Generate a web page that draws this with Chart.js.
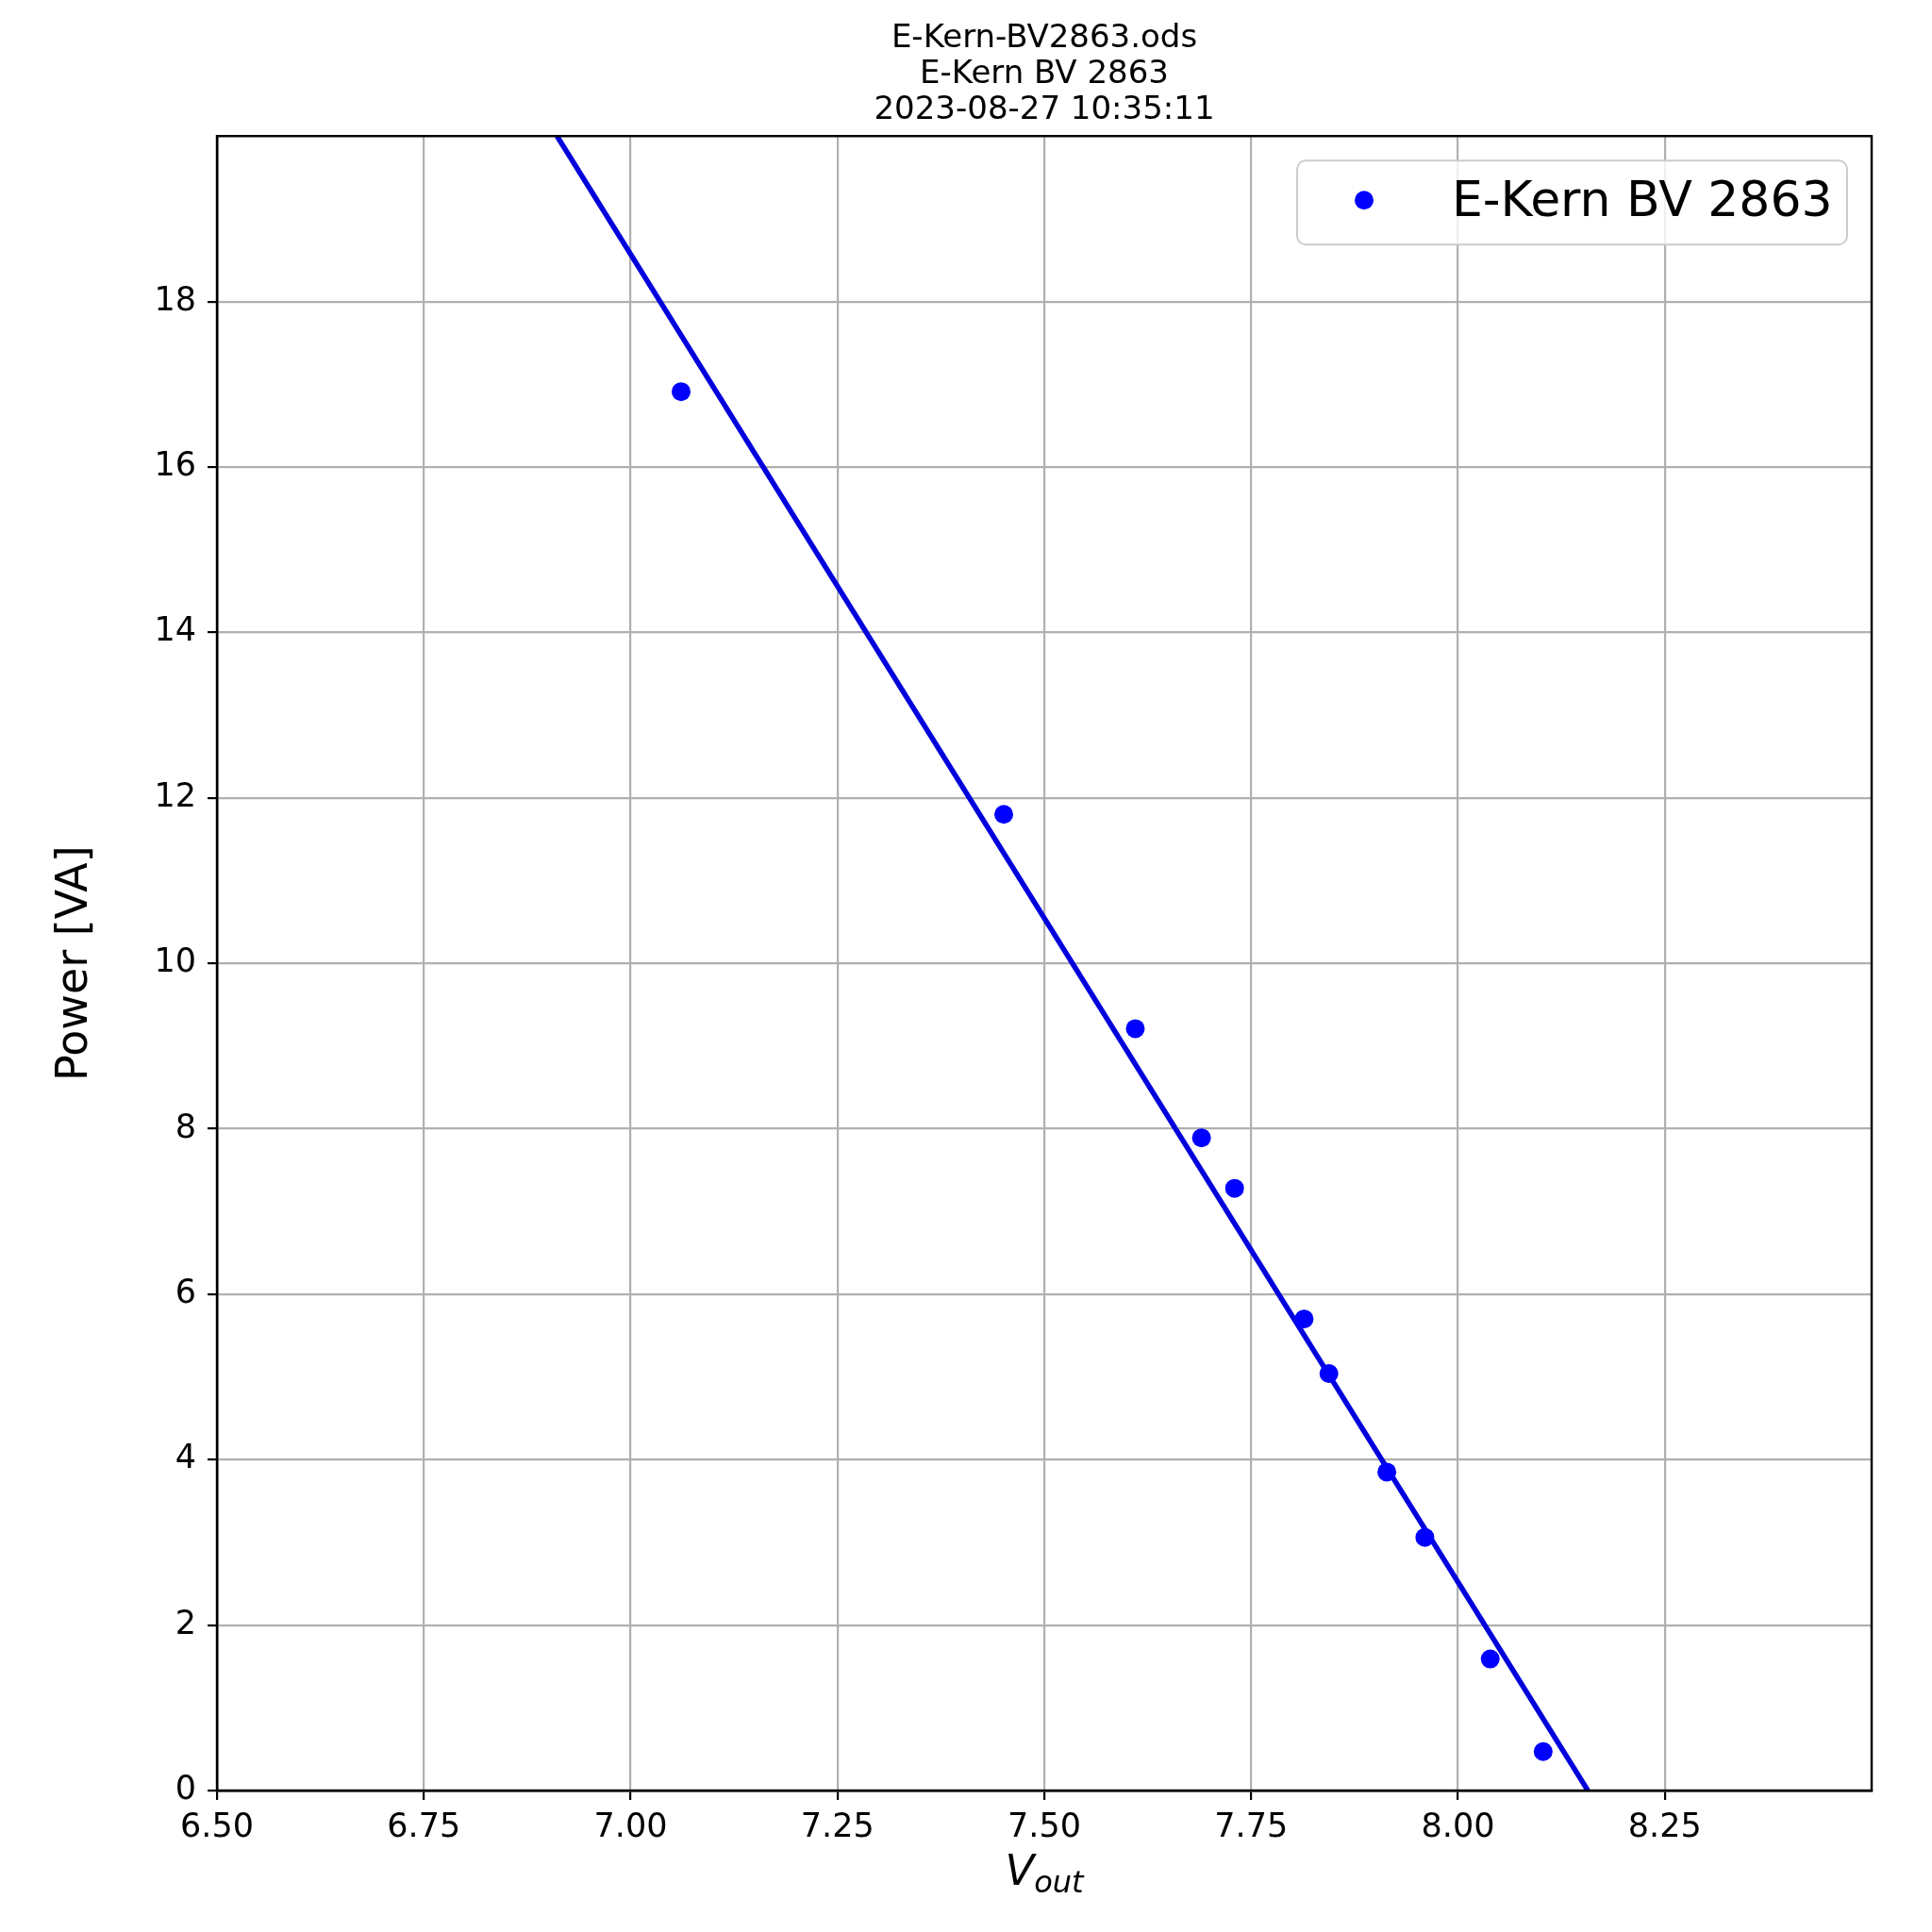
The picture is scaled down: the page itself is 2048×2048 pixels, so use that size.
<!DOCTYPE html>
<html>
<head>
<meta charset="utf-8">
<title>E-Kern BV 2863</title>
<script src="https://cdn.jsdelivr.net/npm/chart.js@4.4.0/dist/chart.umd.min.js"></script>
<style>
  html, body { margin: 0; padding: 0; background: #fff; }
  canvas { display: block; }
</style>
</head>
<body>
<canvas id="powerChart" width="2048" height="2048"></canvas>
<script>
const vOut  = [7.061, 7.451, 7.610, 7.690, 7.730, 7.814, 7.844, 7.914, 7.960, 8.039, 8.103];
const power = [16.91, 11.80, 9.21, 7.89, 7.28, 5.70, 5.04, 3.85, 3.06, 1.59, 0.47];

// fitted line, where it enters and leaves the axes
const fitV = [6.911, 8.157];
const fitP = [20, 0];

const titleLines = ['E-Kern-BV2863.ods', 'E-Kern BV 2863', '2023-08-27 10:35:11'];
const seriesLabel = 'E-Kern BV 2863';
const yTitle = 'Power [VA]';

// axis ranges; the last tick of each axis carries no label
const xRange = [6.5, 8.5];
const xStep = 0.25;
const yRange = [0, 20];
const yStep = 2;

const FONT = "'DejaVu Sans', sans-serif";
const BLUE = '#0000ff';
const LINE_BLUE = '#0000dd';

Chart.defaults.font.family = FONT;
Chart.defaults.color = '#000';

// closed box round the plot, drawn over the data like matplotlib spines
const framePlugin = {
  id: 'frame',
  afterDatasetsDraw(chart) {
    const { ctx, chartArea: a } = chart;
    ctx.save();
    ctx.strokeStyle = '#000';
    ctx.lineWidth = 2.4;
    ctx.strokeRect(a.left, a.top, a.right - a.left, a.bottom - a.top);
    ctx.restore();
  }
};

// x label: italic V with "out" as subscript
const xLabelPlugin = {
  id: 'xLabel',
  afterDraw(chart) {
    const { ctx, chartArea: a } = chart;
    const cx = (a.left + a.right) / 2;
    const base = a.bottom + 100;
    ctx.save();
    ctx.fillStyle = '#000';
    ctx.textBaseline = 'alphabetic';
    ctx.textAlign = 'left';
    ctx.font = 'italic 45px ' + FONT;
    const wV = ctx.measureText('V').width;
    ctx.font = 'italic 32px ' + FONT;
    const wSub = ctx.measureText('out').width;
    let x = cx - (wV + wSub) / 2;
    ctx.font = 'italic 45px ' + FONT;
    ctx.fillText('V', x, base);
    ctx.font = 'italic 32px ' + FONT;
    ctx.fillText('out', x + wV, base + 8);
    ctx.restore();
  }
};

// legend box in the upper right corner of the axes
const legendPlugin = {
  id: 'legendBox',
  afterDraw(chart) {
    const { ctx, chartArea: a } = chart;
    const ds = chart.data.datasets[0];
    const w = 583, h = 89, r = 9;
    const x = a.right - 26 - w;
    const y = a.top + 26;
    ctx.save();
    ctx.beginPath();
    ctx.moveTo(x + r, y);
    ctx.lineTo(x + w - r, y);
    ctx.arcTo(x + w, y, x + w, y + r, r);
    ctx.lineTo(x + w, y + h - r);
    ctx.arcTo(x + w, y + h, x + w - r, y + h, r);
    ctx.lineTo(x + r, y + h);
    ctx.arcTo(x, y + h, x, y + h - r, r);
    ctx.lineTo(x, y + r);
    ctx.arcTo(x, y, x + r, y, r);
    ctx.closePath();
    ctx.fillStyle = 'rgba(255,255,255,0.8)';
    ctx.fill();
    ctx.strokeStyle = '#cccccc';
    ctx.lineWidth = 2;
    ctx.stroke();

    ctx.beginPath();
    ctx.arc(x + 71, y + 42, ds.pointRadius, 0, Math.PI * 2);
    ctx.fillStyle = ds.backgroundColor;
    ctx.fill();

    ctx.fillStyle = '#000';
    ctx.font = '52px ' + FONT;
    ctx.textBaseline = 'alphabetic';
    ctx.textAlign = 'left';
    ctx.fillText(ds.label, x + 164, y + 59);
    ctx.restore();
  }
};

const hideLast = (v, last) => Math.abs(v - last) < 1e-9;

const ctx = document.getElementById('powerChart').getContext('2d');
const chart = new Chart(ctx, {
  data: {
    datasets: [
      {
        type: 'scatter',
        label: seriesLabel,
        data: vOut.map((v, i) => ({ x: v, y: power[i] })),
        pointRadius: 10,
        pointHoverRadius: 10,
        backgroundColor: BLUE,
        borderWidth: 0
      },
      {
        type: 'line',
        label: 'fit',
        data: fitV.map((v, i) => ({ x: v, y: fitP[i] })),
        borderColor: LINE_BLUE,
        borderWidth: 5.5,
        pointRadius: 0,
        fill: false,
        tension: 0,
        clip: 0
      }
    ]
  },
  options: {
    responsive: false,
    animation: false,
    devicePixelRatio: 1,
    layout: {
      padding: { top: 0, right: 64, bottom: 0, left: 0 }
    },
    plugins: {
      legend: { display: false },
      tooltip: { enabled: false },
      title: {
        display: true,
        fullSize: false,
        text: titleLines,
        color: '#000',
        font: { size: 34, weight: 'normal', lineHeight: 1.12 },
        padding: { top: 22, bottom: 8 }
      }
    },
    scales: {
      x: {
        type: 'linear',
        position: 'bottom',
        min: xRange[0],
        max: xRange[1],
        afterFit: s => { s.height = 150; },
        ticks: {
          stepSize: xStep,
          maxRotation: 0,
          autoSkip: false,
          padding: 9,
          font: { size: 35 },
          callback: v => hideLast(v, xRange[1]) ? '' : v.toFixed(2)
        },
        grid: {
          color: '#b0b0b0',
          lineWidth: 2.2,
          tickLength: 10,
          tickWidth: 2.2,
          tickColor: c => (c.tick && hideLast(c.tick.value, xRange[1])) ? 'rgba(0,0,0,0)' : '#000'
        },
        border: { color: '#000', width: 2.4 }
      },
      y: {
        type: 'linear',
        position: 'left',
        min: yRange[0],
        max: yRange[1],
        afterFit: s => { s.width = 230; },
        ticks: {
          stepSize: yStep,
          padding: 12,
          font: { size: 35 },
          callback: v => hideLast(v, yRange[1]) ? '' : String(v)
        },
        grid: {
          color: '#b0b0b0',
          lineWidth: 2.2,
          tickLength: 10,
          tickWidth: 2.2,
          tickColor: c => (c.tick && hideLast(c.tick.value, yRange[1])) ? 'rgba(0,0,0,0)' : '#000'
        },
        border: { color: '#000', width: 2.4 },
        title: {
          display: true,
          text: yTitle,
          color: '#000',
          font: { size: 46, lineHeight: 1.2 },
          padding: { top: 52, bottom: 0 }
        }
      }
    }
  },
  plugins: [framePlugin, xLabelPlugin, legendPlugin]
});
</script>
</body>
</html>
